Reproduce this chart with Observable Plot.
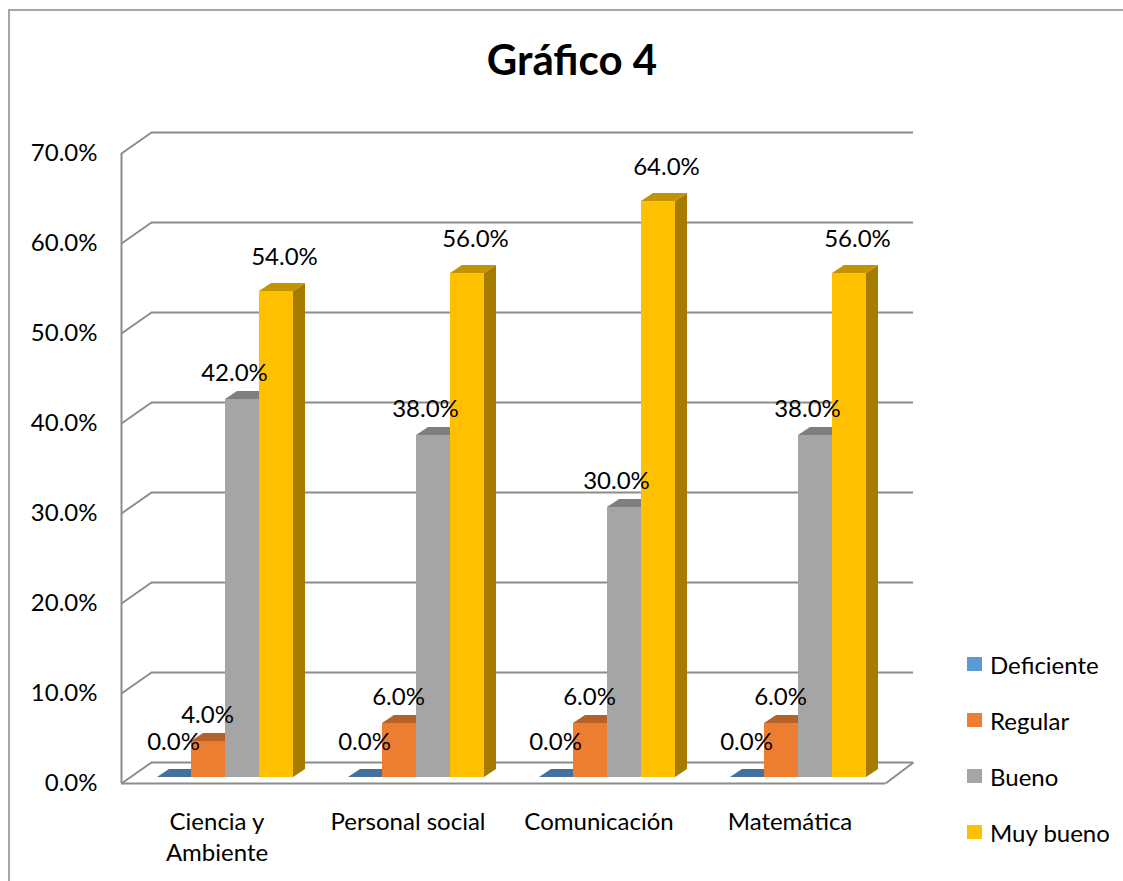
<!DOCTYPE html>
<html>
<head>
<meta charset="utf-8">
<script src="https://cdn.jsdelivr.net/npm/d3@7"></script>
<script src="https://cdn.jsdelivr.net/npm/@observablehq/plot@0.6"></script>
<style>
  body { margin: 0; background: #fff; font-family: Lato, "Open Sans", sans-serif; }
  #wrap { position: relative; width: 1123px; height: 881px; overflow: hidden; background: #fff; }
  #frame { position: absolute; left: 8px; top: 9px; width: 1300px; height: 1100px; border: 2px solid #a6a6a6; box-sizing: border-box; }
  #title { position: absolute; top: 38px; left: 0; width: 1144px; text-align: center; font-weight: bold; font-size: 42px; line-height: 42px; color: #000; }
  #chart { position: absolute; left: 0; top: 100px; }
  .lg { position: absolute; left: 967px; height: 28px; display: flex; align-items: center; font-size: 24px; color: #000; }
  .lg i { display: inline-block; width: 15px; height: 14px; margin-right: 8px; }
</style>
</head>
<body>
<div id="wrap">
  <div id="frame"></div>
  <div id="title">Gráfico 4</div>
  <div id="chart"></div>
  <div id="legend"></div>
</div>
<script>
// ---- data ----
const categories = ["Ciencia y\nAmbiente", "Personal social", "Comunicación", "Matemática"];
const seriesNames = ["Deficiente", "Regular", "Bueno", "Muy bueno"];
const deficiente = [0.00, 0.00, 0.00, 0.00];
const regular    = [0.04, 0.06, 0.06, 0.06];
const bueno      = [0.42, 0.38, 0.30, 0.38];
const muyBueno   = [0.54, 0.56, 0.64, 0.56];
const yTicks = [0, 0.1, 0.2, 0.3, 0.4, 0.5, 0.6, 0.7];

// ---- styles ----
const frontColors = ["#5B9BD5", "#ED7D31", "#A5A5A5", "#FFC000"];
const topColors   = ["#41719C", "#B5622A", "#7F7F7F", "#C49300"];
const sideColors  = ["#3A6791", "#9C511E", "#6E6E6E", "#A67C00"];
const gridColor = "#8c8c8c";

// ---- layout (pixels) ----
const W = 1123, H = 781;
const ML = 121, MR = 1123 - 885, MT = 53, MB = 98;
const PX = 4 / (W - ML - MR);      // x data units per pixel
const PY = 0.7 / (H - MT - MB);    // y data units per pixel
const WALL = {dx: 30, dy: 21};
const BAR = {inset: 36, width: 34, lift: 6, depthX: 12, depthY: 8};
const labelDx = [-1, -1, -8, 8];
const labelRise = [35, 26, 26, 34];

const seriesValues = [deficiente, regular, bueno, muyBueno];
const fmt = v => (v * 100).toFixed(1) + "%";

const bars = [];
categories.forEach((c, i) => {
  seriesValues.forEach((vals, j) => {
    const x1 = i + (BAR.inset + BAR.width * j) * PX;
    const x2 = x1 + BAR.width * PX;
    const yb = BAR.lift * PY;
    const yt = vals[i] + yb;
    bars.push({id: i * 4 + j, i, j, v: vals[i], x1, x2, yb, yt});
  });
});

const topPts = bars.flatMap(b => [
  {id: b.id, y: b.yt, x1: b.x1, x2: b.x2, fill: topColors[b.j]},
  {id: b.id, y: b.yt + BAR.depthY * PY, x1: b.x1 + BAR.depthX * PX, x2: b.x2 + BAR.depthX * PX, fill: topColors[b.j]}
]);
const sidePts = bars.flatMap(b => [
  {id: b.id, x: b.x2, y1: b.yb, y2: b.yt, fill: sideColors[b.j]},
  {id: b.id, x: b.x2 + BAR.depthX * PX, y1: b.yb + BAR.depthY * PY, y2: b.yt + BAR.depthY * PY, fill: sideColors[b.j]}
]);

const chart = Plot.plot({
  width: W, height: H,
  marginLeft: ML, marginRight: MR, marginTop: MT, marginBottom: MB,
  style: {fontFamily: "Lato, sans-serif", fontSize: "24px", color: "#000", background: "transparent", overflow: "visible"},
  x: {domain: [0, 4], axis: null},
  y: {domain: [0, 0.7], ticks: yTicks, tickFormat: fmt, tickSize: 0, tickPadding: 24, label: null},
  color: {type: "identity"},
  marks: [
    // back wall gridlines
    Plot.ruleY(yTicks, {x1: () => 0, x2: () => 4 - 2 * PX, dx: WALL.dx, dy: -WALL.dy, stroke: gridColor, strokeWidth: 2}),
    // side wall diagonals
    Plot.link(yTicks, {x1: () => 0, y1: d => d, x2: () => WALL.dx * PX, y2: d => d + WALL.dy * PY, stroke: gridColor, strokeWidth: 2}),
    // left axis line
    Plot.ruleX([0], {y1: () => 0, y2: () => 0.7, stroke: gridColor, strokeWidth: 2}),
    // floor front edge & right edge
    Plot.ruleY([0], {x1: () => 0, x2: () => 4, stroke: gridColor, strokeWidth: 2}),
    Plot.link([0], {x1: () => 4, y1: () => 0, x2: () => 4 + (WALL.dx - 2) * PX, y2: () => WALL.dy * PY, stroke: gridColor, strokeWidth: 2}),
    // bar faces
    Plot.areaY(sidePts, {x: "x", y1: "y1", y2: "y2", z: "id", fill: "fill"}),
    Plot.areaX(topPts, {y: "y", x1: "x1", x2: "x2", z: "id", fill: "fill"}),
    Plot.rect(bars, {x1: "x1", x2: "x2", y1: "yb", y2: "yt", fill: d => frontColors[d.j]}),
    // value labels
    Plot.text(bars, {
      x: d => (d.x1 + d.x2) / 2 + labelDx[d.j] * PX,
      y: d => d.yt + labelRise[d.j] * PY,
      text: d => fmt(d.v), fontSize: 24, fill: "#000"
    }),
    // category labels
    Plot.text(categories, {
      x: (d, i) => i + 0.5, y: () => 0, text: d => d,
      lineAnchor: "top", dy: 24, lineHeight: 1.3, fontSize: 24, fill: "#000"
    })
  ]
});
document.getElementById("chart").appendChild(chart);

// legend
const legend = document.getElementById("legend");
const legendTops = [650, 706, 762, 818];
seriesNames.forEach((name, j) => {
  const row = document.createElement("div");
  row.className = "lg";
  row.style.top = legendTops[j] + "px";
  row.innerHTML = `<i style="background:${frontColors[j]}"></i><span>${name}</span>`;
  legend.appendChild(row);
});
</script>
</body>
</html>
